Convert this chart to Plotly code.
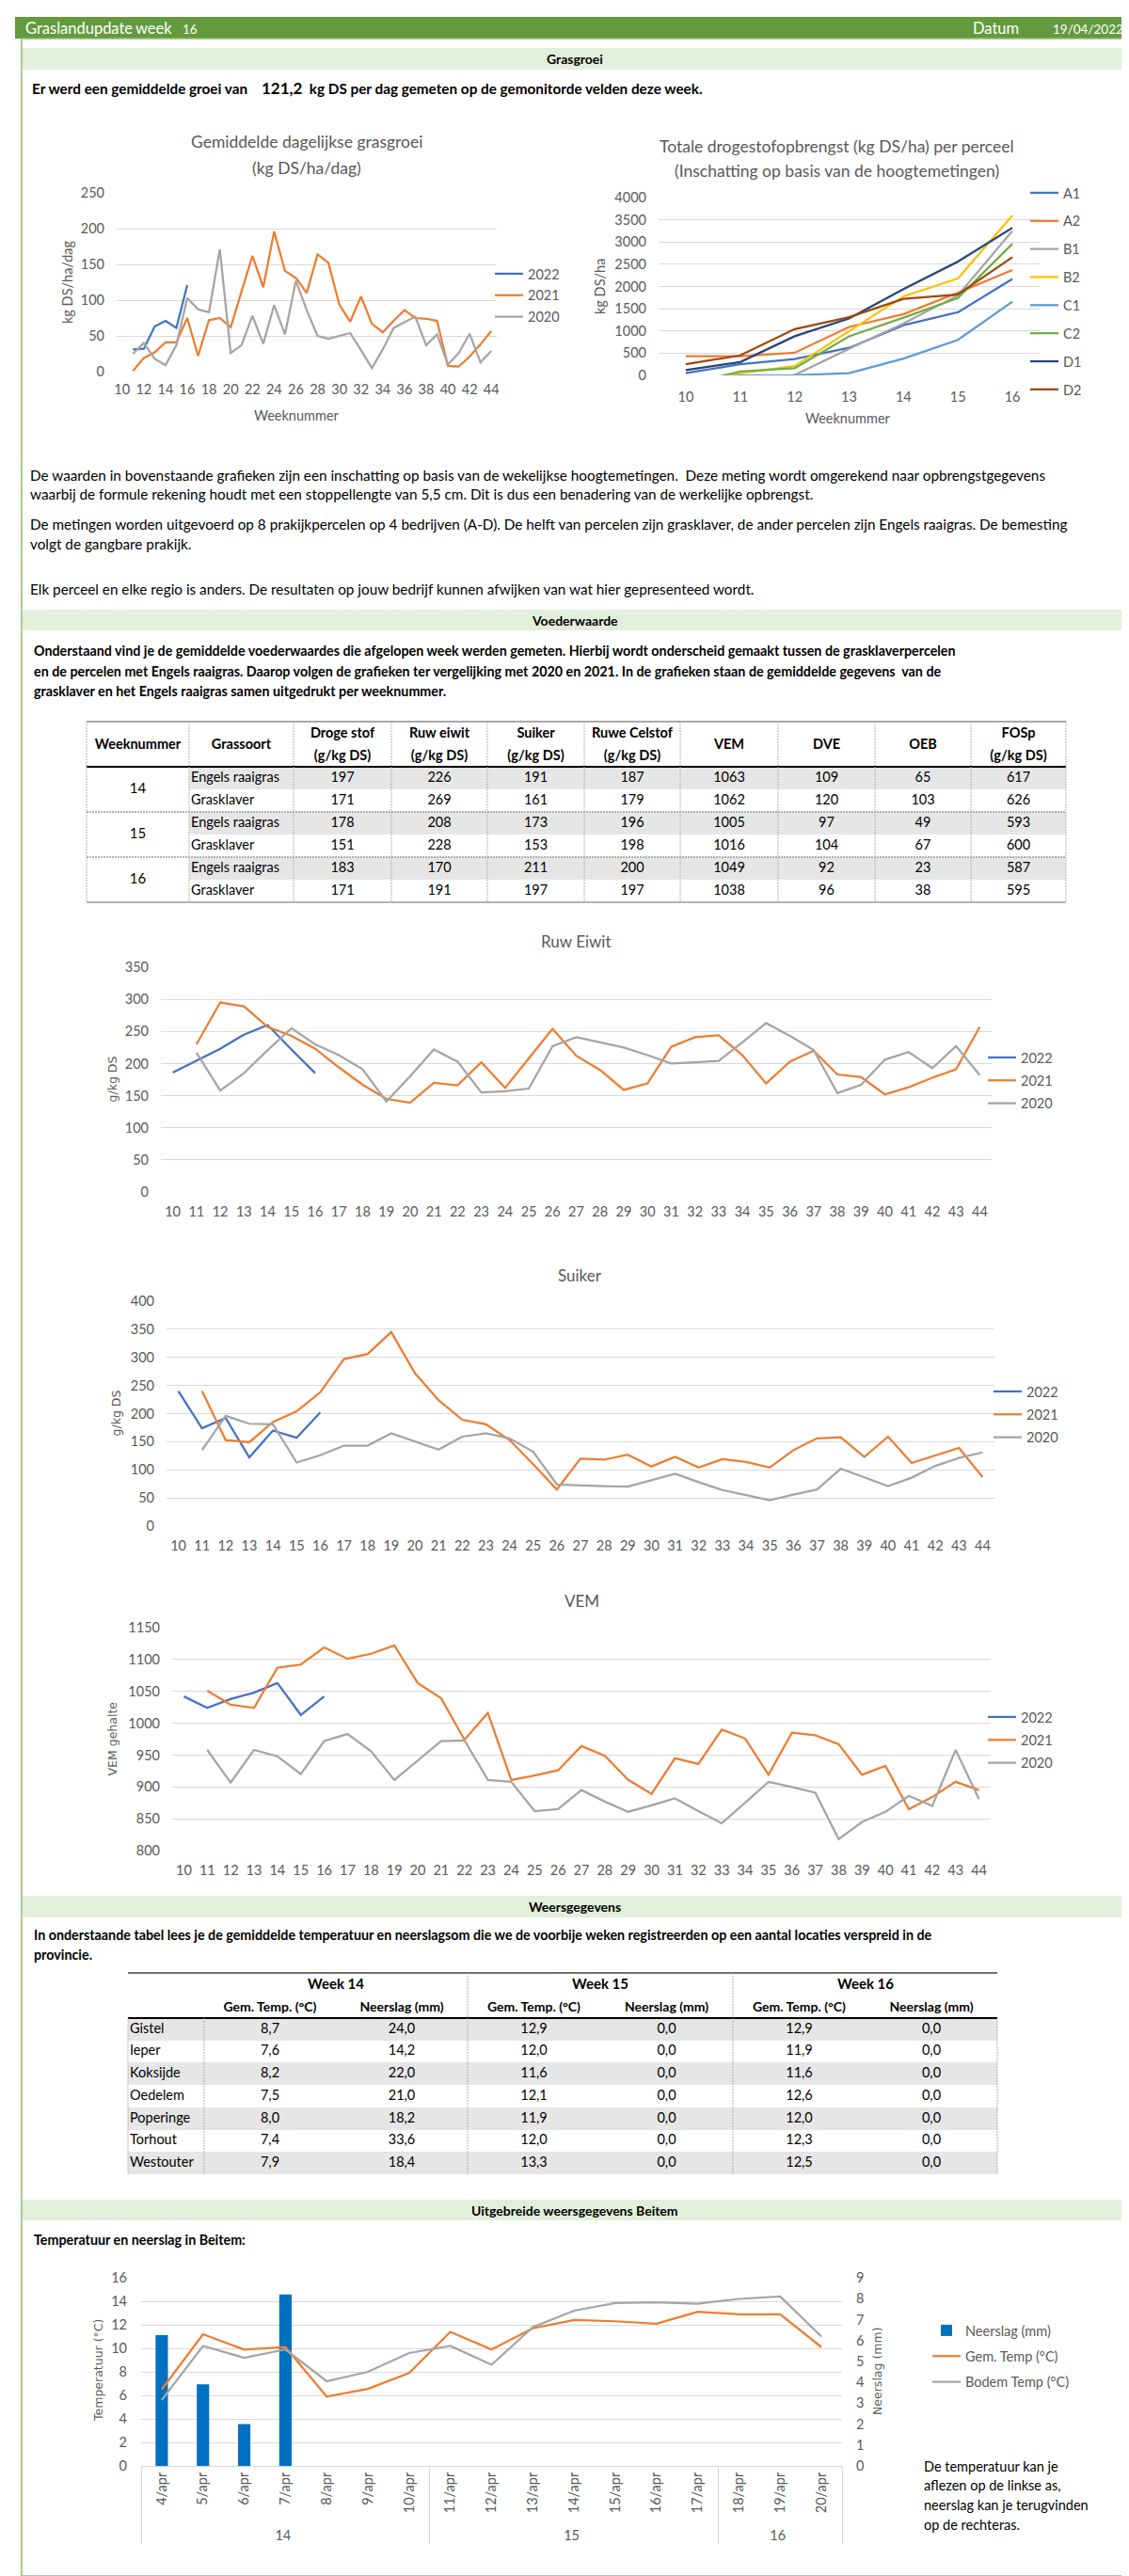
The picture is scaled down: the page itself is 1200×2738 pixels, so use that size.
import plotly.graph_objects as go

W, H = 1200, 2738

# ---------------- data ----------------
weeks = list(range(10, 45))

gras_2022 = [None, 31, 32, 63, 71, 61, 121] + [None] * 28
gras_2021 = [None, 1, 19, 27, 41, 41, 75, 22, 72, 75, 62, 112, 162, 118, 196, 141, 131, 110, 164, 152,
             94, 70, 105, 67, 55, 71, 86, 75, 74, 71, 8, 7, 21, 38, 57]
gras_2020 = [None, 25, 40, 18, 9, 37, 103, 87, 83, 171, 26, 37, 78, 39, 93, 52, 127, 86, 50, 46,
             50, 54, 30, 5, 31, 61, 69, 77, 37, 52, 10, 26, 53, 13, 29]

ds_weeks = [10, 11, 12, 13, 14, 15, 16]
ds_names = ['A1', 'A2', 'B1', 'B2', 'C1', 'C2', 'D1', 'D2']
ds_A1 = [50, 250, 370, 620, 1130, 1420, 2170]
ds_A2 = [430, 430, 510, 1090, 1380, 1860, 2370]
ds_B1 = [-400, -200, 10, 600, 1170, 1800, 3250]
ds_B2 = [-250, 50, 210, 1000, 1780, 2180, 3600]
ds_C1 = [-100, 0, 5, 50, 380, 800, 1660]
ds_C2 = [-210, 90, 160, 880, 1300, 1740, 2960]
ds_D1 = [120, 300, 880, 1280, 1940, 2560, 3320]
ds_D2 = [250, 450, 1040, 1310, 1720, 1820, 2660]

voeder_headers = ['Weeknummer', 'Grassoort', 'Droge stof\n(g/kg DS)', 'Ruw eiwit\n(g/kg DS)',
                  'Suiker\n(g/kg DS)', 'Ruwe Celstof\n(g/kg DS)', 'VEM', 'DVE', 'OEB', 'FOSp\n(g/kg DS)']
voeder_weeks = ['14', '15', '16']
voeder_soort = ['Engels raaigras', 'Grasklaver'] * 3
v_droge_stof = [197, 171, 178, 151, 183, 171]
v_ruw_eiwit = [226, 269, 208, 228, 170, 191]
v_suiker = [191, 161, 173, 153, 211, 197]
v_celstof = [187, 179, 196, 198, 200, 197]
v_vem = [1063, 1062, 1005, 1016, 1049, 1038]
v_dve = [109, 120, 97, 104, 92, 96]
v_oeb = [65, 103, 49, 67, 23, 38]
v_fosp = [617, 626, 593, 600, 587, 595]

re_2022 = [186, 204, 223, 245, 260, 222, 185] + [None] * 28
re_2021 = [None, 230, 295, 289, 257, 243, 223, 194, 167, 145, 139, 170, 166, 202, 162, 208, 254, 212,
           190, 159, 169, 226, 241, 244, 213, 169, 203, 220, 183, 179, 152, 163, 178, 191, 257]
re_2020 = [None, 217, 158, 185, 221, 255, 230, 213, 191, 141, 180, 222, 203, 155, 157, 161, 227, 241,
           233, 225, 213, 200, 202, 204, 233, 263, 243, 221, 154, 167, 206, 218, 193, 227, 182]

su_2022 = [240, 174, 192, 122, 170, 157, 202] + [None] * 28
su_2021 = [None, 240, 153, 149, 185, 204, 238, 297, 306, 345, 272, 224, 189, 181, 153, 110, 65, 120,
           118, 127, 106, 123, 104, 119, 114, 104, 135, 156, 158, 123, 159, 112, 125, 139, 87]
su_2020 = [None, 135, 196, 182, 181, 113, 126, 143, 143, 165, 150, 136, 159, 165, 156, 132, 74, 72,
           71, 70, 81, 93, 78, 64, 55, 46, 56, 65, 102, 86, 71, 86, 107, 121, 131]

vem_2022 = [1042, 1024, 1038, 1048, 1063, 1013, 1042] + [None] * 28
vem_2021 = [None, 1051, 1029, 1024, 1087, 1092, 1119, 1101, 1109, 1122, 1063, 1039, 974, 1016, 911,
            918, 926, 964, 949, 911, 889, 945, 936, 990, 976, 919, 985, 981, 967, 919, 933, 865, 884,
            908, 895]
vem_2020 = [None, 958, 907, 958, 948, 920, 972, 983, 956, 911, 941, 972, 973, 911, 908, 862, 865, 895,
            877, 861, 871, 882, 862, 843, 875, 908, 900, 891, 818, 845, 861, 886, 870, 958, 881]

weer_cities = ['Gistel', 'Ieper', 'Koksijde', 'Oedelem', 'Poperinge', 'Torhout', 'Westouter']
weer_weeks = ['Week 14', 'Week 15', 'Week 16']
weer_sub = ['Gem. Temp. (°C)', 'Neerslag (mm)']
temp_w14 = [8.7, 7.6, 8.2, 7.5, 8.0, 7.4, 7.9]
rain_w14 = [24.0, 14.2, 22.0, 21.0, 18.2, 33.6, 18.4]
temp_w15 = [12.9, 12.0, 11.6, 12.1, 11.9, 12.0, 13.3]
rain_w15 = [0.0, 0.0, 0.0, 0.0, 0.0, 0.0, 0.0]
temp_w16 = [12.9, 11.9, 11.6, 12.6, 12.0, 12.3, 12.5]
rain_w16 = [0.0, 0.0, 0.0, 0.0, 0.0, 0.0, 0.0]

beitem_week = ['14'] * 7 + ['15'] * 7 + ['16'] * 3
beitem_dates = ['4/apr', '5/apr', '6/apr', '7/apr', '8/apr', '9/apr', '10/apr', '11/apr', '12/apr',
                '13/apr', '14/apr', '15/apr', '16/apr', '17/apr', '18/apr', '19/apr', '20/apr']
beitem_rain = [6.25, 3.9, 2.0, 8.2, 0, 0, 0, 0, 0, 0, 0, 0, 0, 0, 0, 0, 0]
beitem_gem = [6.5, 11.2, 9.9, 10.1, 5.9, 6.55, 7.9, 11.4, 9.9, 11.7, 12.4, 12.3, 12.1, 13.1, 12.9,
              12.9, 10.1]
beitem_bodem = [5.6, 10.2, 9.2, 9.9, 7.2, 8.0, 9.6, 10.2, 8.6, 11.8, 13.2, 13.85, 13.9, 13.8, 14.2,
                14.4, 11.0]

# ---------------- helpers ----------------
def X(px):
    return px / W


def Y(py):
    return 1 - py / H


FONT = "Lato, 'Noto Sans', sans-serif"
WIDE = "'DejaVu Sans', Verdana, sans-serif"
TXT = '#595959'
GRID = '#D9D9D9'
YEAR_COL = {'2022': '#4472C4', '2021': '#ED7D31', '2020': '#A5A5A5'}
PERC_COL = ['#4472C4', '#ED7D31', '#A5A5A5', '#FFC000', '#5B9BD5', '#70AD47', '#264478', '#9E480E']
BAND = '#E2EFDA'
ROWGRAY = '#E7E6E6'

fig = go.Figure()
shapes, anns = [], []
layout = {}


def ann(text, x, y, size=15, color='black', bold=False, xanchor='left', family=FONT, angle=0):
    anns.append(dict(text=f'<b>{text}</b>' if bold else text, x=X(x), y=Y(y), xref='paper',
                     yref='paper', xanchor=xanchor, yanchor='middle', showarrow=False,
                     textangle=angle, font=dict(family=family, size=size, color=color)))


def rect(x0, y0, x1, y1, fill, line_color=None, lw=0):
    shapes.append(dict(type='rect', xref='paper', yref='paper', x0=X(x0), x1=X(x1), y0=Y(y1),
                       y1=Y(y0), fillcolor=fill, line=dict(color=line_color or fill, width=lw),
                       layer='below'))


def seg(x0, y0, x1, y1, color, width=1, dash='solid'):
    shapes.append(dict(type='line', xref='paper', yref='paper', x0=X(x0), x1=X(x1), y0=Y(y0),
                       y1=Y(y1), line=dict(color=color, width=width, dash=dash), layer='above'))


def legend_cfg(text_x, first_y, gap, shift=25):
    return dict(x=X(text_x - 40), y=Y(first_y - shift), xanchor='left', yanchor='top',
                bgcolor='rgba(0,0,0,0)', borderwidth=0, traceorder='grouped', tracegroupgap=gap,
                itemwidth=30, font=dict(family=FONT, size=14.5, color=TXT))


def tickfont():
    return dict(family=FONT, size=14.5, color=TXT)


def text_trace(xs, ys, texts, n, size=14.5, bold=False, pos='middle center', color='black'):
    fig.add_trace(go.Scatter(x=xs, y=ys, text=[f'<b>{t}</b>' if bold else t for t in texts],
                             mode='text', textposition=pos,
                             textfont=dict(family=FONT, size=size, color=color),
                             xaxis=f'x{n}', yaxis=f'y{n}', showlegend=False, hoverinfo='skip'))


def fmt(v):
    return f'{v:.1f}'.replace('.', ',')


# ---------------- page frame ----------------
rect(8, 10, 1195, 33, '#639A3D')
shapes.append(dict(type='rect', xref='paper', yref='paper', x0=X(15), x1=X(1190), y0=Y(2730),
                   y1=Y(33), fillcolor='rgba(0,0,0,0)', line=dict(color='#8DBF6B', width=1.5),
                   layer='below'))
ann('Graslandupdate', 17, 22, 16.5, 'white')
ann('week', 134, 22, 16.5, 'white')
ann('16', 184, 23, 13.5, 'white')
ann('Datum', 1024, 22, 16.5, 'white')
ann('19/04/2022', 1188, 23, 13.5, 'white', xanchor='right')

for y0, y1, title in [(43, 66, 'Grasgroei'), (640, 662, 'Voederwaarde'),
                      (2007, 2030, 'Weersgegevens'), (2330, 2352, 'Uitgebreide weersgegevens Beitem')]:
    rect(16, y0, 1190, y1, BAND)
    ann(title, 603, (y0 + y1) / 2, 14, bold=True, xanchor='center')

# ---------------- Grasgroei text ----------------
ann("Er werd een gemiddelde groei van&nbsp;&nbsp;&nbsp;&nbsp;<span style='font-size:17px'>121,2</span>"
    "&nbsp;&nbsp;kg DS per dag gemeten op de gemonitorde velden deze week.", 24, 85, 15.3, bold=True)

# chart 1
for name, vals in [('2022', gras_2022), ('2021', gras_2021), ('2020', gras_2020)]:
    fig.add_trace(go.Scatter(x=weeks, y=vals, mode='lines', name=name, xaxis='x', yaxis='y',
                             line=dict(color=YEAR_COL[name], width=2.25), legend='legend',
                             legendgroup='g1' + name))
layout['xaxis'] = dict(domain=[X(116), X(520)], anchor='y', range=[9.5, 44.5], tickmode='array',
                       tickvals=weeks[::2], tickangle=0, showgrid=False, zeroline=False,
                       showline=False, ticks='', ticklabelstandoff=8, tickfont=tickfont(),
                       fixedrange=True)
layout['yaxis'] = dict(domain=[Y(387), Y(197)], anchor='x', range=[0, 250], dtick=50,
                       showgrid=True, gridcolor=GRID, zeroline=False, showline=False, ticks='',
                       ticklabelstandoff=12, tickfont=tickfont(), fixedrange=True)
layout['legend'] = legend_cfg(553, 292, 1)
ann('Gemiddelde dagelijkse grasgroei', 318, 143, 17.5, TXT, xanchor='center')
ann('(kg DS/ha/dag)', 318, 170, 17.5, TXT, xanchor='center')
ann('kg DS/ha/dag', 63, 292, 14.5, TXT, xanchor='center', angle=-90)
ann('Weeknummer', 307, 433, 14.5, TXT, xanchor='center')

# chart 2
for i, (name, vals) in enumerate(zip(ds_names, [ds_A1, ds_A2, ds_B1, ds_B2, ds_C1, ds_C2, ds_D1,
                                                 ds_D2])):
    fig.add_trace(go.Scatter(x=ds_weeks, y=vals, mode='lines', name=name, xaxis='x2', yaxis='y2',
                             line=dict(color=PERC_COL[i], width=2.25), legend='legend2',
                             legendgroup='g2' + name))
layout['xaxis2'] = dict(domain=[X(692), X(1097)], anchor='y2', range=[9.5, 16.5], tickmode='array',
                        tickvals=ds_weeks, tickangle=0, showgrid=False, zeroline=False,
                        showline=False, ticks='', ticklabelstandoff=12, tickfont=tickfont(),
                        fixedrange=True)
layout['yaxis2'] = dict(domain=[Y(391), Y(202)], anchor='x2', range=[0, 4000], dtick=500,
                        showgrid=True, gridcolor=GRID, zeroline=False, showline=False, ticks='',
                        ticklabelstandoff=12, tickfont=tickfont(), fixedrange=True)
layout['legend2'] = legend_cfg(1122, 206, 8)
ann('Totale drogestofopbrengst (kg DS/ha) per perceel', 881, 147, 17.5, TXT, xanchor='center')
ann('(Inschatting op basis van de hoogtemetingen)', 881, 173, 17.5, TXT, xanchor='center')
ann('kg DS/ha', 629, 297, 14.5, TXT, xanchor='center', angle=-90)
ann('Weeknummer', 893, 437, 14.5, TXT, xanchor='center')

# paragraphs
PARA = 15.3
ann('De waarden in bovenstaande grafieken zijn een inschatting op basis van de wekelijkse '
    'hoogtemetingen.&nbsp; Deze meting wordt omgerekend naar opbrengstgegevens', 22, 497, PARA)
ann('waarbij de formule rekening houdt met een stoppellengte van 5,5 cm. Dit is dus een benadering '
    'van de werkelijke opbrengst.', 22, 517, PARA)
ann('De metingen worden uitgevoerd op 8 prakijkpercelen op 4 bedrijven (A-D). De helft van percelen '
    'zijn grasklaver, de ander percelen zijn Engels raaigras. De bemesting', 22, 549, PARA)
ann('volgt de gangbare prakijk.', 22, 570, PARA)
ann('Elk perceel en elke regio is anders. De resultaten op jouw bedrijf kunnen afwijken van wat '
    'hier gepresenteed wordt.', 22, 618, PARA)

# ---------------- Voederwaarde ----------------
BOLDP = 14.3
ann('Onderstaand vind je de gemiddelde voederwaardes die afgelopen week werden gemeten. Hierbij '
    'wordt onderscheid gemaakt tussen de grasklaverpercelen', 26, 684, BOLDP, bold=True)
ann('en de percelen met Engels raaigras. Daarop volgen de grafieken ter vergelijking met 2020 en '
    '2021. In de grafieken staan de gemiddelde gegevens&nbsp; van de', 26, 705, BOLDP, bold=True)
ann('grasklaver en het Engels raaigras samen uitgedrukt per weeknummer.', 26, 726, BOLDP, bold=True)

vt_cols = [84, 193, 304, 408, 510, 613, 715, 819, 922, 1024, 1125]
vt_top, vt_head = 759, 807
vt_rows = [807, 831, 855, 879, 903, 927, 951]
layout['xaxis3'] = dict(domain=[X(vt_cols[0]), X(vt_cols[-1])], range=[vt_cols[0], vt_cols[-1]],
                        visible=False, anchor='y3', fixedrange=True)
layout['yaxis3'] = dict(domain=[Y(vt_rows[-1]), Y(vt_top)], range=[vt_rows[-1], vt_top],
                        visible=False, anchor='x3', fixedrange=True)
for r in range(0, 6, 2):
    rect(vt_cols[1], vt_rows[r], vt_cols[-1], vt_rows[r + 1], ROWGRAY)
seg(vt_cols[0], vt_top, vt_cols[-1], vt_top, '#8C8C8C', 1.5)
seg(vt_cols[0], vt_head, vt_cols[-1], vt_head, '#000000', 2.2)
for yy in (vt_rows[2], vt_rows[4]):
    seg(vt_cols[0], yy, vt_cols[-1], yy, '#9A9A9A', 1.5, '2px,1px')
seg(vt_cols[0], vt_rows[-1], vt_cols[-1], vt_rows[-1], '#9A9A9A', 1.5)
for xx in vt_cols:
    seg(xx, vt_top, xx, vt_rows[-1], '#B0B0B0', 1, '2px,1px')

row_c = [(vt_rows[i] + vt_rows[i + 1]) / 2 for i in range(6)]
col_c = [(vt_cols[i] + vt_cols[i + 1]) / 2 for i in range(10)]
one_x, one_y, one_t, two_x, two_y, two_t = [], [], [], [], [], []
for i, h in enumerate(voeder_headers):
    parts = h.split('\n')
    if len(parts) == 1:
        one_x.append(col_c[i]); one_y.append(784); one_t.append(parts[0])
    else:
        two_x += [col_c[i], col_c[i]]; two_y += [772, 796]; two_t += parts
text_trace(one_x, one_y, one_t, 3, 14.5, bold=True)
text_trace(two_x, two_y, two_t, 3, 14.5, bold=True)
text_trace([col_c[0]] * 3, [(vt_rows[2 * k] + vt_rows[2 * k + 2]) / 2 for k in range(3)],
           voeder_weeks, 3, 15)
text_trace([vt_cols[1] + 2] * 6, row_c, voeder_soort, 3, 14.5, pos='middle right')
for j, col in enumerate([v_droge_stof, v_ruw_eiwit, v_suiker, v_celstof, v_vem, v_dve, v_oeb,
                         v_fosp]):
    text_trace([col_c[j + 2]] * 6, row_c, [str(v) for v in col], 3, 14.5)

# ---------------- year charts ----------------
def year_chart(n, xl, xr, yt, yb, yrange, dtick, series, title, title_y, ytitle, ytitle_x,
               leg_x, leg_y):
    for name, vals in series:
        fig.add_trace(go.Scatter(x=weeks, y=vals, mode='lines', name=name, xaxis=f'x{n}',
                                 yaxis=f'y{n}', line=dict(color=YEAR_COL[name], width=2.25),
                                 legend=f'legend{n}', legendgroup=f'g{n}{name}'))
    layout[f'xaxis{n}'] = dict(domain=[X(xl), X(xr)], anchor=f'y{n}', range=[9.5, 44.5],
                               tickmode='array', tickvals=weeks, tickangle=0, showgrid=False,
                               zeroline=False, showline=False, ticks='', ticklabelstandoff=10,
                               tickfont=tickfont(), fixedrange=True)
    layout[f'yaxis{n}'] = dict(domain=[Y(yb), Y(yt)], anchor=f'x{n}', range=yrange, dtick=dtick,
                               tick0=yrange[0], showgrid=True, gridcolor=GRID, zeroline=False,
                               showline=False, ticks='', ticklabelstandoff=12,
                               tickfont=tickfont(), fixedrange=True)
    layout[f'legend{n}'] = legend_cfg(leg_x, leg_y, 2.5)
    ann(title, (xl + xr) / 2, title_y, 17, TXT, xanchor='center')
    ann(ytitle, ytitle_x, (yt + yb) / 2, 12.5, TXT, xanchor='center', family=WIDE, angle=-90)


year_chart(4, 163, 1046, 1020, 1259, [0, 350], 50,
           [('2022', re_2022), ('2021', re_2021), ('2020', re_2020)],
           'Ruw Eiwit', 992, 'g/kg DS', 111, 1077, 1125)
year_chart(5, 169, 1049, 1375, 1614, [0, 400], 50,
           [('2022', su_2022), ('2021', su_2021), ('2020', su_2020)],
           'Suiker', 1347, 'g/kg DS', 115, 1083, 1480)
year_chart(6, 175, 1045, 1722, 1959, [800, 1150], 50,
           [('2022', vem_2022), ('2021', vem_2021), ('2020', vem_2020)],
           'VEM', 1693, 'VEM gehalte', 111, 1077, 1826)

# ---------------- Weersgegevens ----------------
ann('In onderstaande tabel lees je de gemiddelde temperatuur en neerslagsom die we de voorbije '
    'weken registreerden op een aantal locaties verspreid in de', 26, 2048, BOLDP, bold=True)
ann('provincie.', 26, 2069, BOLDP, bold=True)

wt_cols = [128, 209, 349, 489, 630, 771, 912, 1052]
wt_top, wt_head = 2089, 2137
wt_rows = [2137, 2161, 2184, 2208, 2232, 2256, 2279, 2303]
layout['xaxis7'] = dict(domain=[X(wt_cols[0]), X(wt_cols[-1])], range=[wt_cols[0], wt_cols[-1]],
                        visible=False, anchor='y7', fixedrange=True)
layout['yaxis7'] = dict(domain=[Y(wt_rows[-1]), Y(wt_top)], range=[wt_rows[-1], wt_top],
                        visible=False, anchor='x7', fixedrange=True)
for r in range(0, 7, 2):
    rect(wt_cols[0], wt_rows[r], wt_cols[-1], wt_rows[r + 1], ROWGRAY)
seg(wt_cols[0], wt_top, wt_cols[-1], wt_top, '#404040', 1.5)
seg(wt_cols[0], wt_head, wt_cols[-1], wt_head, '#000000', 2.2)
for xx in (wt_cols[0], wt_cols[1], wt_cols[-1]):
    seg(xx, wt_head, xx, wt_rows[-1], '#B0B0B0', 1, '2px,1px')
for xx in (wt_cols[3], wt_cols[5]):
    seg(xx, wt_top, xx, wt_rows[-1], '#B0B0B0', 1, '2px,1px')

wrow_c = [(wt_rows[i] + wt_rows[i + 1]) / 2 for i in range(7)]
wcol_c = [(wt_cols[i] + wt_cols[i + 1]) / 2 for i in range(7)]
text_trace([wt_cols[2 * k + 2] for k in range(3)], [2102] * 3, weer_weeks, 7, 15, bold=True)
text_trace(wcol_c[1:], [2126] * 6, weer_sub * 3, 7, 14, bold=True)
text_trace([wt_cols[0] + 2] * 7, wrow_c, weer_cities, 7, 14.5, pos='middle right')
for j, col in enumerate([temp_w14, rain_w14, temp_w15, rain_w15, temp_w16, rain_w16]):
    text_trace([wcol_c[j + 1]] * 7, wrow_c, [fmt(v) for v in col], 7, 14.5)

# ---------------- Beitem ----------------
ann('Temperatuur en neerslag in Beitem:', 26, 2372, BOLDP, bold=True)
fig.add_trace(go.Bar(x=[beitem_week, beitem_dates], y=beitem_rain, name='Neerslag (mm)',
                     marker=dict(color='#0070C0', line=dict(width=0)), xaxis='x8', yaxis='y8',
                     legend='legend8', legendgroup='b1'))
fig.add_trace(go.Scatter(x=[beitem_week, beitem_dates], y=beitem_gem, mode='lines',
                         name='Gem. Temp (°C)', line=dict(color='#ED7D31', width=2.25),
                         xaxis='x8', yaxis='y9', legend='legend8', legendgroup='b2'))
fig.add_trace(go.Scatter(x=[beitem_week, beitem_dates], y=beitem_bodem, mode='lines',
                         name='Bodem Temp (°C)', line=dict(color='#A5A5A5', width=2.25),
                         xaxis='x8', yaxis='y9', legend='legend8', legendgroup='b3'))
layout['xaxis8'] = dict(domain=[X(142), X(887)], anchor='y8', type='multicategory',
                        tickangle=-90, showdividers=True, dividercolor=GRID, dividerwidth=1,
                        showgrid=False, zeroline=False, showline=True, linecolor=GRID,
                        ticks='', tickfont=tickfont(), fixedrange=True)
layout['yaxis8'] = dict(domain=[Y(2613), Y(2413)], anchor='x8', side='right', range=[0, 9],
                        dtick=1, showgrid=False, zeroline=False, showline=False, ticks='',
                        ticklabelstandoff=14, tickfont=tickfont(), fixedrange=True)
layout['yaxis9'] = dict(overlaying='y8', anchor='x8', side='left', range=[0, 16], dtick=2,
                        showgrid=True, gridcolor=GRID, zeroline=False, showline=False, ticks='',
                        ticklabelstandoff=14, tickfont=tickfont(), fixedrange=True)
layout['legend8'] = legend_cfg(1018, 2486, 5.5, shift=33)
ann('Temperatuur (°C)', 96, 2512, 12.5, TXT, xanchor='center', family=WIDE, angle=-90)
ann('Neerslag (mm)', 924, 2512, 12.5, TXT, xanchor='center', family=WIDE, angle=-90)
for i, line in enumerate(['De temperatuur kan je', 'aflezen op de linkse as,',
                          'neerslag kan je terugvinden', 'op de rechteras.']):
    ann(line, 972, 2613 + i * 20.7, 14.5)

fig.update_layout(width=W, height=H, autosize=False, margin=dict(l=0, r=0, t=0, b=0),
                  template='none', paper_bgcolor='white', plot_bgcolor='rgba(0,0,0,0)',
                  showlegend=True, bargap=0.7, shapes=shapes, annotations=anns,
                  font=dict(family=FONT, color=TXT), hovermode='closest', **layout)
fig.write_html('out.html')
